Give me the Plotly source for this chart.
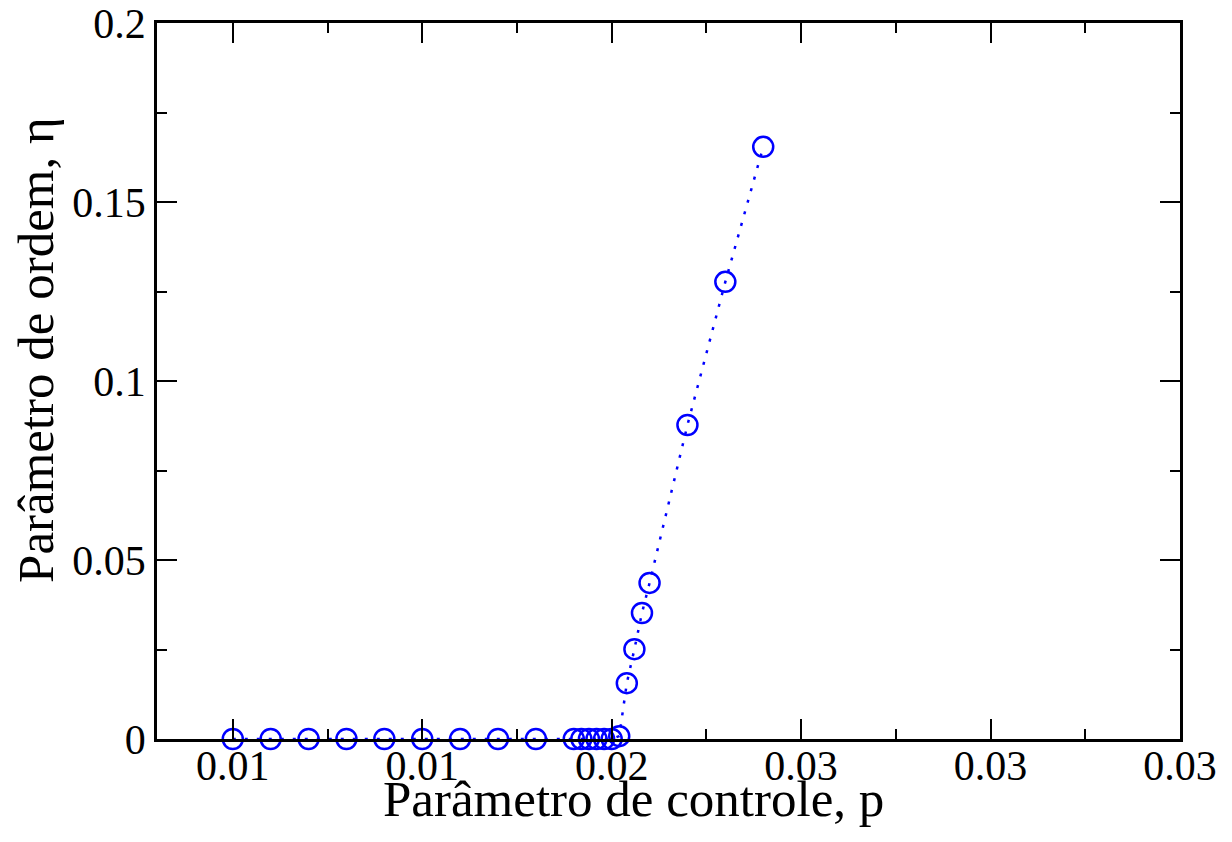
import plotly.graph_objects as go

p_vals = [0.010, 0.011, 0.012, 0.013, 0.014, 0.015, 0.016, 0.017, 0.018,
          0.0190, 0.0192, 0.0194, 0.0196, 0.0198, 0.0200, 0.0202,
          0.0204, 0.0206, 0.0208, 0.0210, 0.0220, 0.0230, 0.0240]
eta_vals = [0.0, 0.0, 0.0, 0.0, 0.0, 0.0, 0.0, 0.0, 0.0,
            0.0, 0.0, 0.0, 0.0, 0.0, 0.0, 0.0008,
            0.0156, 0.0251, 0.0352, 0.0436, 0.0877, 0.1277, 0.1654]

x_tickvals = [0.010, 0.015, 0.020, 0.025, 0.030, 0.035]
x_ticktext = ["0.01", "0.01", "0.02", "0.03", "0.03", "0.03"]
y_tickvals = [0.0, 0.05, 0.10, 0.15, 0.20]
y_ticktext = ["0", "0.05", "0.1", "0.15", "0.2"]

x_title = "Parâmetro de controle, p"
y_title = "Parâmetro de ordem, η"

fig = go.Figure()
fig.add_trace(go.Scatter(
    x=p_vals, y=eta_vals, mode="lines+markers",
    line=dict(color="#0000ff", width=2.5, dash="3px,9px"),
    marker=dict(symbol="circle-open", size=20, color="#0000ff",
                line=dict(color="#0000ff", width=2.5)),
    showlegend=False, cliponaxis=False,
))

font_family = "Liberation Serif, Times New Roman, serif"
axis_common = dict(
    showline=True, linecolor="black", linewidth=2.5, mirror="allticks",
    ticks="inside", ticklen=20, tickwidth=2, tickcolor="black",
    showgrid=False, zeroline=False, automargin=False,
    tickfont=dict(family=font_family, size=42, color="black"),
    tickmode="array",
)

fig.update_xaxes(
    **axis_common,
    range=[0.008, 0.035],
    tickvals=x_tickvals, ticktext=x_ticktext,
    ticklabelstandoff=-12,
    minor=dict(tickmode="linear", tick0=0.0075, dtick=0.0025,
               ticks="inside", ticklen=10, tickwidth=2, tickcolor="black"),
)
fig.update_yaxes(
    **axis_common,
    range=[0, 0.2],
    tickvals=y_tickvals, ticktext=y_ticktext,
    minor=dict(tickmode="linear", tick0=0.0, dtick=0.025,
               ticks="inside", ticklen=10, tickwidth=2, tickcolor="black"),
)

title_font = dict(family=font_family, size=51, color="black")
fig.add_annotation(text=x_title, xref="paper", yref="paper",
                   x=0.4653, y=-0.0838, xanchor="center", yanchor="middle",
                   showarrow=False, font=title_font)
fig.add_annotation(text=y_title, xref="paper", yref="paper",
                   x=-0.1183, y=0.5433, xanchor="center", yanchor="middle",
                   textangle=-90, showarrow=False, font=title_font)

fig.update_layout(
    width=1232, height=842,
    margin=dict(l=157, r=52, t=23, b=103),
    plot_bgcolor="white", paper_bgcolor="white",
)

fig.write_html("out.html", config={"displayModeBar": False},
               post_script="document.body.style.margin='0';document.body.style.padding='0';")
